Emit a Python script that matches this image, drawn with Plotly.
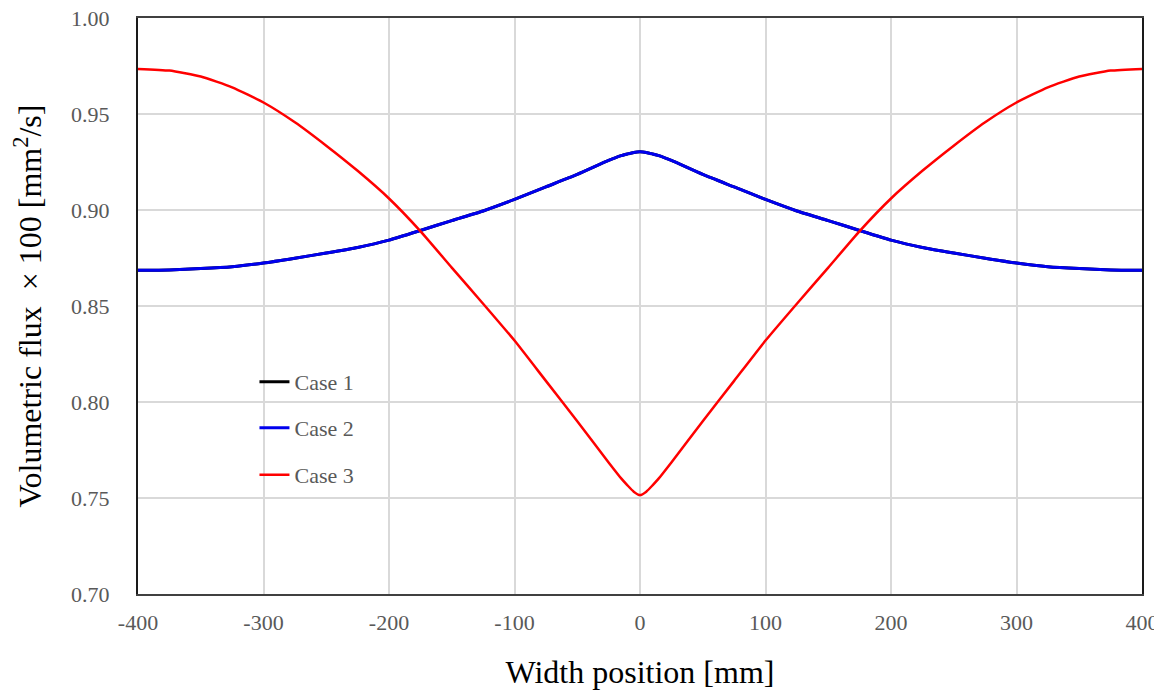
import plotly.graph_objects as go

x_pos = [-400, -375, -350, -325, -300, -275, -250, -225, -200, -175, -150, -125, -100,
         -75, -50, -25, -15, -10, -5, 0, 5, 10, 15, 25, 50, 75, 100, 125, 150, 175, 200,
         225, 250, 275, 300, 325, 350, 375, 400]

case2 = [0.8686, 0.8688, 0.8695, 0.8705, 0.8724, 0.8749, 0.8776, 0.8805, 0.8843, 0.8893,
         0.8945, 0.8995, 0.9055, 0.9120, 0.9185, 0.9258, 0.9283, 0.9292, 0.9300, 0.9303,
         0.9300, 0.9292, 0.9283, 0.9258, 0.9185, 0.9120, 0.9055, 0.8995, 0.8945, 0.8893,
         0.8843, 0.8805, 0.8776, 0.8749, 0.8724, 0.8705, 0.8695, 0.8688, 0.8686]

case1 = list(case2)

case3 = [0.9735, 0.9726, 0.9695, 0.9639, 0.9560, 0.9457, 0.9335, 0.9204, 0.9060, 0.8890,
         0.8700, 0.8512, 0.8320, 0.8110, 0.7900, 0.7685, 0.7602, 0.7566, 0.7533, 0.7515,
         0.7533, 0.7566, 0.7602, 0.7685, 0.7900, 0.8110, 0.8320, 0.8512, 0.8700, 0.8890,
         0.9060, 0.9204, 0.9335, 0.9457, 0.9560, 0.9639, 0.9695, 0.9726, 0.9735]

x_ticks = [-400, -300, -200, -100, 0, 100, 200, 300, 400]
y_ticks = [0.70, 0.75, 0.80, 0.85, 0.90, 0.95, 1.00]

FONT = "Liberation Serif, Times New Roman, serif"
GRAY = "#595959"

# page body has an 8px margin; figure sized so the plot lands where the reference has it
W, H = 1154, 685
L, T, PW, PH = 130, 10, 1004, 576

fig = go.Figure()
fig.add_trace(go.Scatter(x=x_pos, y=case1, mode="lines", name="Case 1",
                         line=dict(color="black", width=3, shape="spline", smoothing=0.5),
                         legend="legend"))
fig.add_trace(go.Scatter(x=x_pos, y=case2, mode="lines", name="Case 2",
                         line=dict(color="#0000ee", width=3, shape="spline", smoothing=0.5),
                         legend="legend2"))
fig.add_trace(go.Scatter(x=x_pos, y=case3, mode="lines", name="Case 3",
                         line=dict(color="#ff0000", width=2.5, shape="spline", smoothing=0.5),
                         legend="legend3"))

leg_common = dict(bgcolor="rgba(0,0,0,0)", borderwidth=0,
                  font=dict(family=FONT, size=22, color=GRAY),
                  xanchor="left", yanchor="middle", itemwidth=30)
leg_x = 0.116

fig.update_layout(
    width=W, height=H,
    margin=dict(l=L, r=W - L - PW, t=T, b=H - T - PH, autoexpand=False),
    paper_bgcolor="white", plot_bgcolor="white",
    font=dict(family=FONT, color=GRAY),
    showlegend=True,
    legend=dict(x=leg_x, y=(594 - 382) / 576, **leg_common),
    legend2=dict(x=leg_x, y=(594 - 428) / 576, **leg_common),
    legend3=dict(x=leg_x, y=(594 - 475) / 576, **leg_common),
    xaxis=dict(range=[-400, 400], tickvals=x_ticks, ticktext=[str(v) for v in x_ticks],
               automargin=False, ticklabeloverflow="allow",
               showgrid=True, gridcolor="#d9d9d9", gridwidth=1.5,
               zeroline=False, showline=True, linecolor="#404040", linewidth=2,
               mirror=True, ticks="", ticklabelstandoff=8,
               tickfont=dict(family=FONT, size=22, color=GRAY),
               title=dict(text="Width position [mm]", standoff=26,
                          font=dict(family=FONT, size=32, color="black"))),
    yaxis=dict(range=[0.70, 1.00], tickvals=y_ticks, ticktext=[f"{v:.2f}" for v in y_ticks],
               automargin=False, ticklabeloverflow="allow",
               showgrid=True, gridcolor="#d9d9d9", gridwidth=1.5,
               zeroline=False, showline=True, linecolor="#1a1a1a", linewidth=2,
               mirror=True, ticks="", ticklabelstandoff=22,
               tickfont=dict(family=FONT, size=22, color=GRAY),
               title=dict(text="Volumetric flux  \u00d7 100 [mm<sup>2</sup>/s]", standoff=22,
                          font=dict(family=FONT, size=32, color="black"))),
)

fig.write_html("out.html")
